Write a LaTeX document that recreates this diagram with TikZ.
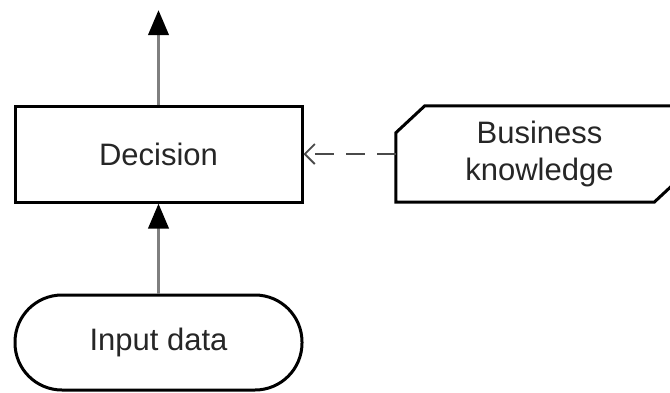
\documentclass[tikz,border=0pt]{standalone}
\usepackage{fontspec}
\setmainfont{Liberation Sans}
\usetikzlibrary{arrows.meta,calc}
\definecolor{flowgray}{HTML}{7F7F7F}
\definecolor{dashgray}{HTML}{4A4A4A}
\definecolor{labelgray}{HTML}{262626}
\begin{document}
\begin{tikzpicture}[x=1pt,y=-1pt,
  every node/.style={font=\fontsize{31}{37}\selectfont, text=labelgray, align=center, inner sep=0pt},
  decisionbox/.style={draw=black, line width=3pt, fill=white, minimum width=287pt, minimum height=96pt},
  knowledgebox/.style={minimum width=287pt, minimum height=96pt},
  inputbox/.style={draw=black, line width=3pt, fill=white, rounded corners=47pt, minimum width=287pt, minimum height=95pt},
  flow/.style={draw=flowgray, line width=3.8pt, -{Triangle[length=25pt,width=20pt,color=black]}},
  requirement/.style={draw=dashgray, line width=2.8pt, dash pattern=on 19pt off 12pt, -{Straight Barb[length=10pt,width=20pt,line width=1.8pt]}}
]
\clip (0,0) rectangle (670,392);
\fill[white] (0,0) rectangle (670,392);

% decision, business knowledge and input data
\node[decisionbox] (dec) at (158.5,154) {Decision};
\node[knowledgebox] (bk) at (539.5,154) {Business\\knowledge};
\draw[black, line width=3pt, line join=miter]
  ($(bk.north west)+(0,27)$) -- ($(bk.north west)+(29,0)$) -- (bk.north east)
  -- ($(bk.south east)+(0,-27)$) -- ($(bk.south east)+(-29,0)$) -- (bk.south west) -- cycle;
\node[inputbox] (inp) at (158.5,342.5) {Input data};
\coordinate (out) at (158.5,10);

% connectors
\draw[flow] (inp.north) -- (dec.south);
\draw[flow] (dec.north) -- (out);
\draw[requirement] (bk.west) -- (dec.east);
\end{tikzpicture}
\end{document}
